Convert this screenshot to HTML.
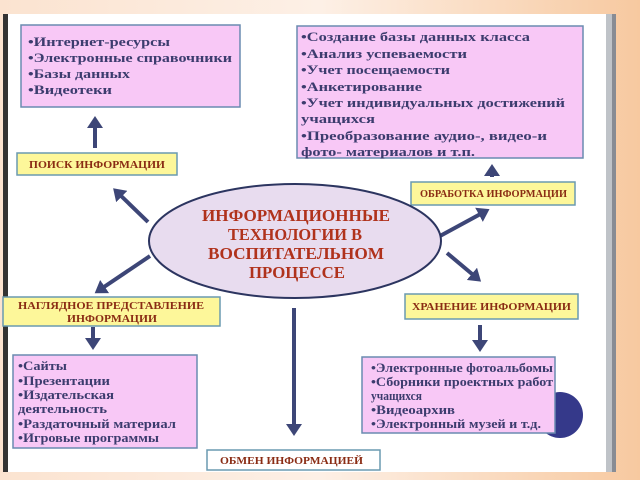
<!DOCTYPE html>
<html><head><meta charset="utf-8"><style>
body{margin:0;width:640px;height:480px;overflow:hidden;background:linear-gradient(90deg,#fbe3d0,#fdf0e6 50%,#f7c9a0);}
svg{position:absolute;left:0;top:0}
text{font-family:"Liberation Serif",serif;font-weight:bold}
.l{font-size:13px;fill:#3c3c6e}
.y{font-size:10.5px;fill:#8a2c14}
.e{font-size:17px;fill:#b0321c}
</style></head><body>
<svg width="640" height="480" viewBox="0 0 640 480">
<defs><marker id="a" markerWidth="4" markerHeight="4" refX="2" refY="2" orient="auto" markerUnits="strokeWidth"><path d="M0,0L3,2L0,4z" fill="#3d4677"/></marker></defs>
<rect x="8" y="14" width="600" height="458" fill="#fff"/>
<rect x="3" y="14" width="5" height="458" fill="#333"/>
<rect x="606" y="14" width="6" height="458" fill="#bfc3c8"/>
<rect x="612" y="14" width="4" height="458" fill="#888c94"/>
<g lengthAdjust="spacingAndGlyphs">
<rect x="21" y="25" width="219" height="82" fill="#f8c8f6" stroke="#6a8bb0" stroke-width="1.5"/>
<text class="l" x="28" y="46" textLength="142" lengthAdjust="spacingAndGlyphs">•Интернет-ресурсы</text>
<text class="l" x="28" y="62" textLength="204" lengthAdjust="spacingAndGlyphs">•Электронные справочники</text>
<text class="l" x="28" y="78" textLength="102" lengthAdjust="spacingAndGlyphs">•Базы данных</text>
<text class="l" x="28" y="94" textLength="84" lengthAdjust="spacingAndGlyphs">•Видеотеки</text>
<rect x="297" y="26" width="286" height="132" fill="#f8c8f6" stroke="#6a8bb0" stroke-width="1.5"/>
<text class="l" x="301" y="41" textLength="229" lengthAdjust="spacingAndGlyphs">•Создание базы данных класса</text>
<text class="l" x="301" y="58" textLength="166" lengthAdjust="spacingAndGlyphs">•Анализ успеваемости</text>
<text class="l" x="301" y="74" textLength="149" lengthAdjust="spacingAndGlyphs">•Учет посещаемости</text>
<text class="l" x="301" y="91" textLength="121" lengthAdjust="spacingAndGlyphs">•Анкетирование</text>
<text class="l" x="301" y="107" textLength="264" lengthAdjust="spacingAndGlyphs">•Учет индивидуальных достижений</text>
<text class="l" x="301" y="123" textLength="74" lengthAdjust="spacingAndGlyphs">учащихся</text>
<text class="l" x="301" y="140" textLength="246" lengthAdjust="spacingAndGlyphs">•Преобразование аудио-, видео-и</text>
<text class="l" x="301" y="156" textLength="174" lengthAdjust="spacingAndGlyphs">фото- материалов и т.п.</text>
<rect x="17" y="153" width="160" height="22" fill="#fdf79a" stroke="#6a9ab0" stroke-width="1.5"/>
<text class="y" x="29" y="168" textLength="136" lengthAdjust="spacingAndGlyphs">ПОИСК ИНФОРМАЦИИ</text>
<rect x="411" y="182" width="164" height="23" fill="#fdf79a" stroke="#6a9ab0" stroke-width="1.5"/>
<text class="y" x="420" y="197" textLength="147" lengthAdjust="spacingAndGlyphs">ОБРАБОТКА ИНФОРМАЦИИ</text>
<rect x="3" y="297" width="217" height="29" fill="#fdf79a" stroke="#6a9ab0" stroke-width="1.5"/>
<text class="y" x="18" y="309" textLength="186" lengthAdjust="spacingAndGlyphs">НАГЛЯДНОЕ ПРЕДСТАВЛЕНИЕ</text>
<text class="y" x="67" y="322" textLength="90" lengthAdjust="spacingAndGlyphs">ИНФОРМАЦИИ</text>
<rect x="405" y="294" width="173" height="25" fill="#fdf79a" stroke="#6a9ab0" stroke-width="1.5"/>
<text class="y" x="412" y="310" textLength="159" lengthAdjust="spacingAndGlyphs">ХРАНЕНИЕ ИНФОРМАЦИИ</text>
<rect x="207" y="450" width="173" height="20" fill="#fff" stroke="#6a9ab0" stroke-width="1.5"/>
<text class="y" x="220" y="464" textLength="143" lengthAdjust="spacingAndGlyphs">ОБМЕН ИНФОРМАЦИЕЙ</text>
<rect x="13" y="355" width="184" height="93" fill="#f8c8f6" stroke="#6a8bb0" stroke-width="1.5"/>
<text class="l" x="18" y="370" textLength="49" lengthAdjust="spacingAndGlyphs">•Сайты</text>
<text class="l" x="18" y="385" textLength="92" lengthAdjust="spacingAndGlyphs">•Презентации</text>
<text class="l" x="18" y="399" textLength="96" lengthAdjust="spacingAndGlyphs">•Издательская</text>
<text class="l" x="18" y="413" textLength="89" lengthAdjust="spacingAndGlyphs">деятельность</text>
<text class="l" x="18" y="428" textLength="158" lengthAdjust="spacingAndGlyphs">•Раздаточный материал</text>
<text class="l" x="18" y="442" textLength="141" lengthAdjust="spacingAndGlyphs">•Игровые программы</text>
<circle cx="560" cy="415" r="23" fill="#35398a"/>
<rect x="362" y="357" width="193" height="76" fill="#f8c8f6" stroke="#6a8bb0" stroke-width="1.5"/>
<text class="l" x="371" y="372" textLength="182" lengthAdjust="spacingAndGlyphs">•Электронные фотоальбомы</text>
<text class="l" x="371" y="386" textLength="182" lengthAdjust="spacingAndGlyphs">•Сборники проектных работ</text>
<text class="l" x="371" y="400" textLength="51" lengthAdjust="spacingAndGlyphs">учащихся</text>
<text class="l" x="371" y="414" textLength="84" lengthAdjust="spacingAndGlyphs">•Видеоархив</text>
<text class="l" x="371" y="428" textLength="170" lengthAdjust="spacingAndGlyphs">•Электронный музей и т.д.</text>
</g>
<g stroke="#3d4677" stroke-width="4" marker-end="url(#a)">
<line x1="95" y1="148" x2="95" y2="120"/>
<line x1="492" y1="177" x2="492" y2="168"/>
<line x1="148" y1="222" x2="116" y2="191"/>
<line x1="440" y1="236" x2="486" y2="211"/>
<line x1="150" y1="256" x2="98" y2="291"/>
<line x1="447" y1="253" x2="478" y2="279"/>
<line x1="93" y1="327" x2="93" y2="346"/>
<line x1="480" y1="325" x2="480" y2="348"/>
<line x1="294" y1="308" x2="294" y2="432"/>
</g>
<ellipse cx="295" cy="241" rx="146" ry="57" fill="#e8dcef" stroke="#2c3560" stroke-width="2"/>
<text class="e" x="202" y="221" textLength="188" lengthAdjust="spacingAndGlyphs">ИНФОРМАЦИОННЫЕ</text>
<text class="e" x="228" y="240" textLength="134" lengthAdjust="spacingAndGlyphs">ТЕХНОЛОГИИ В</text>
<text class="e" x="208" y="259" textLength="176" lengthAdjust="spacingAndGlyphs">ВОСПИТАТЕЛЬНОМ</text>
<text class="e" x="249" y="278" textLength="96" lengthAdjust="spacingAndGlyphs">ПРОЦЕССЕ</text>
</svg>
</body></html>
